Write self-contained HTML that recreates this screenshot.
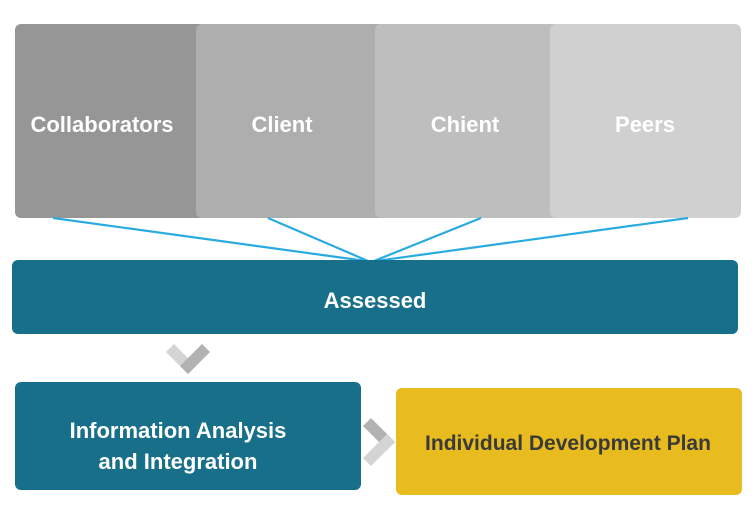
<!DOCTYPE html>
<html><head><meta charset="utf-8"><style>
body{margin:0;width:755px;height:530px;background:#fff;position:relative;overflow:hidden;font-family:"Liberation Sans",sans-serif;}
.b{position:absolute;border-radius:6px;display:flex;align-items:center;justify-content:center;color:#fff;font-weight:bold;font-size:22px;text-align:center;}
.b span{position:absolute;top:50%;transform:translateY(-50%);margin-top:4px;}
</style></head><body>
<div class="b" style="left:15px;top:24px;width:200px;height:194px;background:#969696;"><span style="left:0;width:174px">Collaborators</span></div>
<div class="b" style="left:196px;top:24px;width:199px;height:194px;background:#afaeae;"><span style="left:0;width:172px">Client</span></div>
<div class="b" style="left:375px;top:24px;width:195px;height:194px;background:#bfbebe;"><span style="left:0;width:180px">Chient</span></div>
<div class="b" style="left:550px;top:24px;width:191px;height:194px;background:#d0d0d0;"><span style="left:0;width:190px">Peers</span></div>
<svg style="position:absolute;left:0;top:0" width="755" height="530">
<g stroke="#29abe2" stroke-width="2.2" fill="none">
<line x1="53" y1="218" x2="366" y2="261"/>
<line x1="268" y1="218" x2="368" y2="261"/>
<line x1="481" y1="218" x2="374" y2="261"/>
<line x1="688" y1="218" x2="376" y2="261"/>
</g>
</svg>
<div class="b" style="left:12px;top:260px;width:726px;height:74px;background:#176f8a;"><span style="left:0;width:726px">Assessed</span></div>
<svg style="position:absolute;left:0;top:0" width="755" height="530">
<polygon points="166,352 174,344 196,366 188,374" fill="#d4d4d4"/>
<polygon points="188,374 180,366 202,344 210,352" fill="#b2b2b2"/>
<polygon points="363,426 371,418 395,442 387,450" fill="#b2b2b2"/>
<polygon points="363,458 387,434 395,442 371,466" fill="#d4d4d4"/>
</svg>
<div class="b" style="left:15px;top:382px;width:346px;height:108px;background:#176f8a;line-height:31px;"><span style="left:0;width:326px;margin-top:10px">Information Analysis<br>and Integration</span></div>
<div class="b" style="left:396px;top:388px;width:346px;height:107px;background:#e8bb1e;color:#3a3a3a;font-size:21px;"><span style="left:0;width:344px;margin-top:2px">Individual Development Plan</span></div>
</body></html>
